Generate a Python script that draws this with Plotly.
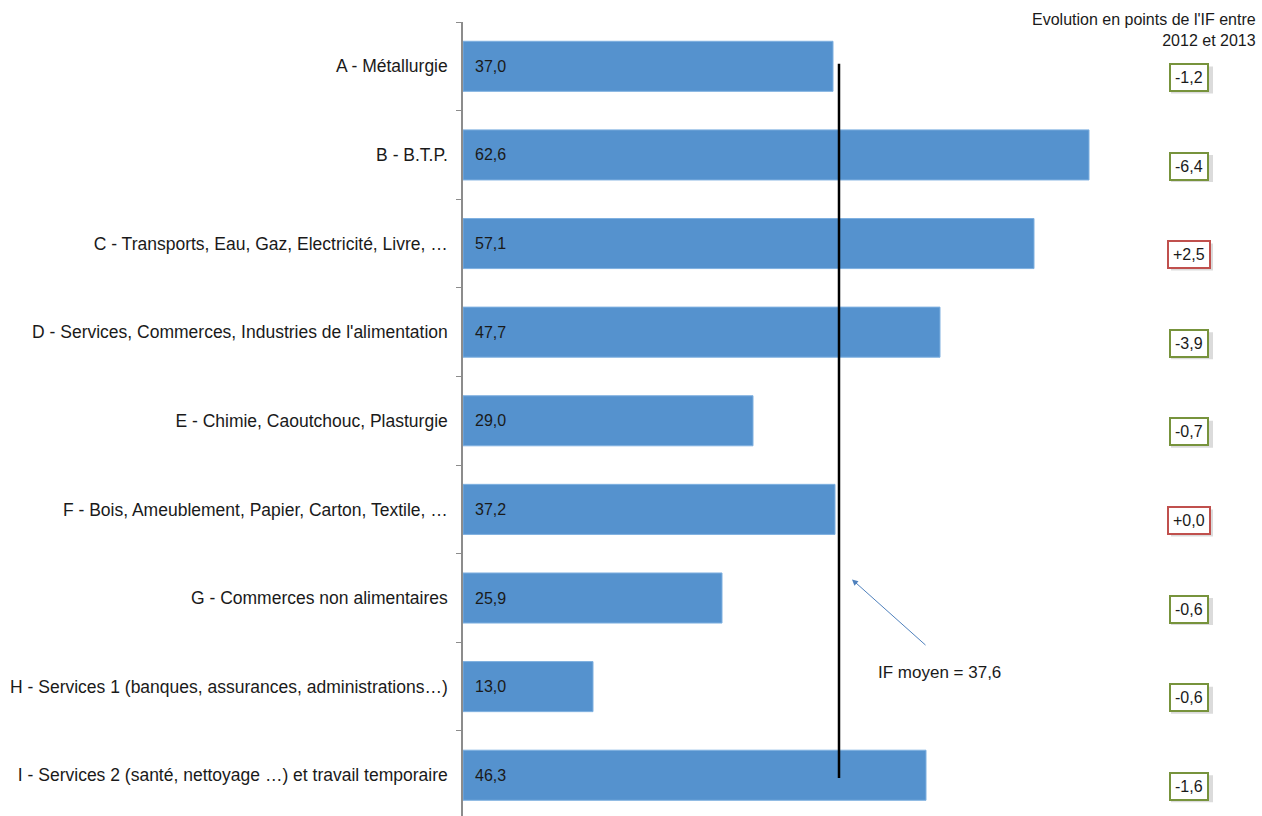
import plotly.graph_objects as go

categories = [
    "A - Métallurgie",
    "B - B.T.P.",
    "C - Transports, Eau, Gaz, Electricité, Livre, …",
    "D - Services, Commerces, Industries de l'alimentation",
    "E - Chimie, Caoutchouc, Plasturgie",
    "F - Bois, Ameublement, Papier, Carton, Textile, …",
    "G - Commerces non alimentaires",
    "H - Services 1 (banques, assurances, administrations…)",
    "I - Services 2 (santé, nettoyage …) et travail temporaire",
]
if_2013 = [37.0, 62.6, 57.1, 47.7, 29.0, 37.2, 25.9, 13.0, 46.3]
evolution = [-1.2, -6.4, 2.5, -3.9, -0.7, 0.0, -0.6, -0.6, -1.6]
evolution_sign = ["-", "-", "+", "-", "-", "+", "-", "-", "-"]
if_moyen = 37.6

def fr(v, signed=False, sign=None):
    s = f"{abs(v):.1f}".replace(".", ",")
    if signed:
        return (sign or ("+" if v >= 0 else "-")) + s
    return s

BAR = "#5592CE"
TXT = "#1a1a1a"
FONT = "Liberation Sans, Arial, sans-serif"
BOX_X = 72.6

fig = go.Figure()
fig.add_trace(go.Bar(
    x=if_2013, y=categories, orientation="h",
    marker=dict(color=BAR, line=dict(color="#7fb0e0", width=1)),
    width=0.565, hoverinfo="skip",
))

ann = []
for c, v in zip(categories, if_2013):
    ann.append(dict(x=0, y=c, xref="x", yref="y", text=fr(v), showarrow=False,
                    xanchor="left", xshift=10, font=dict(size=16, color=TXT)))

for i, (v, s) in enumerate(zip(evolution, evolution_sign)):
    col = "#C0504D" if s == "+" else "#77933C"
    label = fr(v, True, s)
    # soft shadow behind the box
    fig.add_shape(type="rect", xref="x", yref="y",
                  xsizemode="pixel", ysizemode="pixel",
                  xanchor=BOX_X, yanchor=i + 0.125,
                  x0=-18, x1=24, y0=-16, y1=11,
                  fillcolor="rgba(0,0,0,0.14)", line=dict(width=0), layer="above")
    ann.append(dict(x=BOX_X, y=i + 0.125, xref="x", yref="y", text=label,
                    showarrow=False, xanchor="center", yanchor="middle",
                    font=dict(size=16, color=TXT), bgcolor="white",
                    bordercolor=col, borderwidth=2, borderpad=4))

# mean line
fig.add_shape(type="line", x0=if_moyen, x1=if_moyen, y0=-0.03, y1=8.03,
              xref="x", yref="y", line=dict(color="black", width=2.5))

ann.append(dict(x=if_moyen + 1.3, y=5.79, xref="x", yref="y", text="",
                showarrow=True, ax=75, ay=67, arrowcolor="#4F81BD",
                arrowwidth=1, arrowhead=2, arrowsize=1.2))
ann.append(dict(x=41.3, y=6.84, xref="x", yref="y", text="IF moyen = " + fr(if_moyen),
                showarrow=False, xanchor="left", yanchor="middle",
                font=dict(size=17, color=TXT)))

ann.append(dict(x=0.995, y=1.016, xref="paper", yref="paper",
                text="Evolution en points de l'IF entre<br>2012 et 2013",
                showarrow=False, xanchor="right", yanchor="top", align="right",
                font=dict(size=16, color=TXT)))

fig.update_layout(
    width=1262, height=816,
    margin=dict(l=463, r=0, t=22, b=0),
    plot_bgcolor="white", paper_bgcolor="white",
    font=dict(family=FONT, size=16, color=TXT),
    showlegend=False,
    annotations=ann,
    xaxis=dict(range=[0, 79.9], visible=False, showgrid=False, zeroline=False),
    yaxis=dict(type="category", range=[8.46, -0.5], showgrid=False, zeroline=False,
               showline=True, linecolor="#8c8c8c", linewidth=1.5,
               ticks="outside", tickson="boundaries", ticklen=5, tickcolor="#8c8c8c",
               ticklabelstandoff=10, tickfont=dict(size=17.5, color=TXT)),
)

fig.write_html("out.html")
